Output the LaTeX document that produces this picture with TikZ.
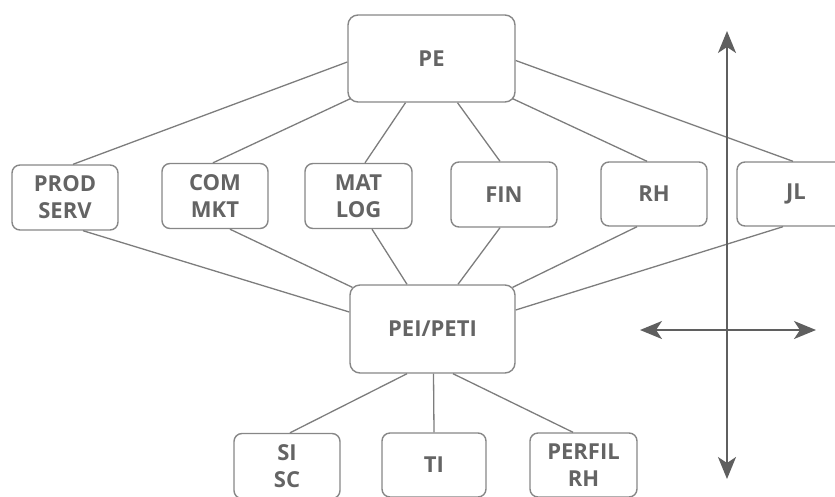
\documentclass[tikz,border=0pt]{standalone}
\usepackage{fontspec}
\setmainfont{Open Sans}
\usetikzlibrary{arrows.meta}
\definecolor{boxline}{RGB}{135,135,135}
\definecolor{linkline}{RGB}{125,125,125}
\definecolor{labeltext}{RGB}{100,100,100}
\definecolor{axisgray}{RGB}{95,95,95}
\tikzset{
  box/.style={draw=boxline, line width=1.4pt, rounded corners=8pt, fill=white,
    minimum width=106pt, minimum height=65pt, inner sep=0pt,
    align=center, text=labeltext,
    font=\fontsize{22}{27}\selectfont\bfseries},
  bigbox/.style={box, rounded corners=10pt},
  link/.style={draw=linkline, line width=1.3pt},
  axis/.style={draw=axisgray, line width=2pt,
    {Stealth[length=22pt, width=18pt, inset=6pt]}-{Stealth[length=22pt, width=18pt, inset=6pt]}}
}
\begin{document}
\begin{tikzpicture}[x=1pt, y=-1pt]
  \useasboundingbox (0,0) rectangle (835,496);
  \clip (0,0) rectangle (835,496);

  % strategic plan at the top
  \node[bigbox, minimum width=167pt, minimum height=87pt] (PE) at (431.5,58.5) {PE};

  % functional areas
  \node[box] (PROD) at (65,197.5) {PROD\\SERV};
  \node[box] (COM) at (215,196) {COM\\MKT};
  \node[box, minimum width=107pt] (MAT) at (358.5,196) {MAT\\LOG};
  \node[box] (FIN) at (504,194.5) {FIN};
  \node[box, minimum height=64pt] (RH) at (654,194) {RH};
  \node[box, minimum width=118pt, minimum height=64pt] (JL) at (796,194) {JL};

  % IT plan
  \node[bigbox, minimum width=165pt, minimum height=88pt] (PEI) at (432.5,329) {PEI/PETI};

  % bottom layer
  \node[box] (SI) at (287,466) {SI\\SC};
  \node[box, minimum width=104pt, minimum height=64pt] (TI) at (434,465) {TI};
  \node[box, minimum width=107pt, minimum height=64pt] (PERFIL) at (583.5,465) {PERFIL\\RH};

  % PE to the areas
  \draw[link] ([yshift=-3.5pt]PE.west) -- ([xshift=8pt]PROD.north);
  \draw[link] ([xshift=3pt,yshift=4pt]PE.south west) -- ([xshift=-2pt]COM.north);
  \draw[link] ([xshift=-26pt]PE.south) -- ([xshift=6.5pt]MAT.north);
  \draw[link] ([xshift=26pt]PE.south) -- ([xshift=-4pt]FIN.north);
  \draw[link] ([xshift=-3pt,yshift=4pt]PE.south east) -- ([xshift=-7pt]RH.north);
  \draw[link] ([yshift=-2pt]PE.east) -- ([xshift=-3pt]JL.north);

  % areas to PEI/PETI
  \draw[link] ([xshift=18pt]PROD.south) -- ([yshift=17pt]PEI.west);
  \draw[link] ([xshift=15pt]COM.south) -- ([xshift=3pt,yshift=-3pt]PEI.north west);
  \draw[link] ([xshift=13.5pt]MAT.south) -- ([xshift=-25.5pt]PEI.north);
  \draw[link] ([xshift=-4pt]FIN.south) -- ([xshift=25.5pt]PEI.north);
  \draw[link] ([xshift=-17pt]RH.south) -- ([xshift=-3pt,yshift=-3pt]PEI.north east);
  \draw[link] ([xshift=-13pt]JL.south) -- ([yshift=19pt]PEI.east);

  % PEI/PETI to the bottom layer
  \draw[link] ([xshift=-25.5pt]PEI.south) -- ([xshift=3pt]SI.north);
  \draw[link] ([xshift=1pt]PEI.south) -- (TI.north);
  \draw[link] ([xshift=20.5pt]PEI.south) -- ([xshift=-10.5pt]PERFIL.north);

  % axes
  \coordinate (vtop) at (727,31);
  \coordinate (vbot) at (727,479);
  \coordinate (hleft) at (640,330);
  \coordinate (hright) at (816,330);
  \draw[axis] (vtop) -- (vbot);
  \draw[axis] (hleft) -- (hright);
\end{tikzpicture}
\end{document}
